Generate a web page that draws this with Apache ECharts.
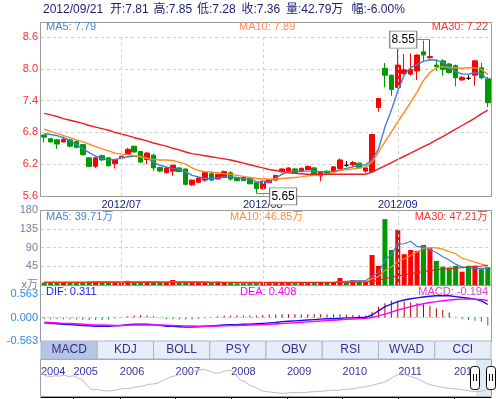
<!DOCTYPE html>
<html><head><meta charset="utf-8">
<script src="https://cdn.jsdelivr.net/npm/echarts@6/dist/echarts.min.js"></script>
<style>html,body{margin:0;padding:0;background:#fff}#c{width:496px;height:399px}</style>
</head><body><div id="c"></div>
<script>
const dates = ['2012/06/13','2012/06/14','2012/06/15','2012/06/18','2012/06/19','2012/06/20','2012/06/21','2012/06/25','2012/06/26','2012/06/27','2012/06/28','2012/06/29',
'2012/07/02','2012/07/03','2012/07/04','2012/07/05','2012/07/06','2012/07/09','2012/07/10','2012/07/11','2012/07/12','2012/07/13','2012/07/16','2012/07/17','2012/07/18','2012/07/19','2012/07/20','2012/07/23','2012/07/24','2012/07/25','2012/07/26','2012/07/27','2012/07/30','2012/07/31',
'2012/08/01','2012/08/02','2012/08/03','2012/08/06','2012/08/07','2012/08/08','2012/08/09','2012/08/10','2012/08/13','2012/08/14','2012/08/15','2012/08/16','2012/08/17','2012/08/20','2012/08/21','2012/08/24','2012/08/27','2012/08/28','2012/08/29','2012/08/30','2012/08/31',
'2012/09/03','2012/09/04','2012/09/05','2012/09/06','2012/09/07','2012/09/10','2012/09/11','2012/09/12','2012/09/13','2012/09/14','2012/09/17','2012/09/18','2012/09/19','2012/09/20','2012/09/21'];
const opens = [6.75,6.68,6.66,6.62,6.66,6.63,6.57,6.32,6.16,6.36, 6.32,6.21,6.32,6.39,6.54,6.44,6.29,6.37,6.14,6.04, 6.07,6.13,6.11,5.81,5.86,5.90,6.02,5.92,5.95,6.04, 5.94,5.95,5.93,5.85,5.74,5.85,5.90,6.06,6.07,6.11, 6.06,6.10,6.13,5.98,6.07,6.06,6.12,6.18,6.19,6.22, 6.07,6.06,7.27,8.01,7.88,7.65,7.91,7.90,7.96,8.32, 8.21,8.07,8.15,8.09,8.06,7.79,7.82,7.88,8.02,7.81];
const closes = [6.71,6.62,6.58,6.67,6.54,6.52,6.38,6.16,6.32,6.28, 6.17,6.29,6.35,6.48,6.43,6.24,6.41,6.13,6.07,6.13, 6.18,6.06,5.82,5.90,5.94,6.04,5.90,6.01,6.06,5.92, 5.89,5.89,5.83,5.74,5.88,5.90,5.99,6.11,6.13,6.03, 6.12,6.16,6.01,6.06,6.03,6.15,6.28,6.18,6.23,6.13, 6.13,6.76,7.44,7.88,7.61,8.07,7.98,7.99,8.26,8.26, 8.23,8.04,7.99,7.93,7.83,7.84,7.82,8.15,7.83,7.36];
const lows = [6.61,6.61,6.49,6.61,6.52,6.50,6.36,6.15,6.13,6.26, 6.16,6.12,6.31,6.38,6.42,6.22,6.20,6.07,6.05,6.03, 5.98,6.05,5.81,5.79,5.84,5.87,5.89,5.91,5.94,5.89, 5.88,5.88,5.82,5.65,5.72,5.84,5.89,6.04,6.06,6.02, 6.05,6.09,6.00,5.88,6.02,6.04,6.11,6.15,6.15,6.12, 6.04,6.05,7.19,7.65,7.49,7.63,7.89,7.87,7.79,8.13, 8.19,7.96,7.87,7.91,7.67,7.77,7.79,7.68,7.80,7.28];
const highs = [6.76,6.70,6.67,6.72,6.68,6.65,6.58,6.33,6.34,6.38, 6.33,6.30,6.36,6.51,6.55,6.45,6.43,6.40,6.15,6.14, 6.19,6.14,6.12,5.91,5.95,6.07,6.07,6.02,6.08,6.07, 5.95,5.96,5.94,5.86,5.89,5.91,6.00,6.12,6.14,6.13, 6.14,6.17,6.15,6.07,6.08,6.16,6.31,6.26,6.26,6.23, 6.14,6.76,7.44,8.11,7.89,8.37,8.28,8.29,8.27,8.53, 8.55,8.18,8.18,8.11,8.08,7.86,7.88,8.16,8.11,7.85];
const ma5 = [6.78,6.76,6.74,6.70,6.65,6.57,6.49,6.42,6.35,6.31, 6.28,6.29,6.31,6.34,6.35,6.35,6.32,6.24,6.18,6.15, 6.12,6.10,6.06,5.99,5.96,5.93,5.93,5.94,5.96,5.96, 5.95,5.93,5.92,5.87,5.85,5.87,5.94,6.01,6.06,6.07, 6.07,6.07,6.07,6.06,6.06,6.06,6.09,6.12,6.15,6.18, 6.19,6.28,6.49,6.90,7.22,7.58,7.88,8.02,8.08,8.14, 8.17,8.16,8.12,8.04,7.95,7.90,7.90,7.93,7.91,7.79];
const ma10 = [6.86,6.82,6.78,6.74,6.70,6.66,6.62,6.58,6.53,6.49, 6.45,6.41,6.39,6.38,6.36,6.34,6.31,6.29,6.28,6.28, 6.27,6.24,6.20,6.13,6.08,6.06,6.05,6.04,6.02,6.01, 5.99,5.97,5.95,5.93,5.92,5.92,5.92,5.93,5.94,5.95, 5.96,5.98,5.99,6.00,6.02,6.04,6.08,6.10,6.11,6.13, 6.15,6.24,6.43,6.62,6.81,7.00,7.18,7.37,7.56,7.78, 7.93,8.02,8.04,8.02,8.02,8.01,8.02,8.02,7.99,7.89];
const ma30 = [7.16,7.13,7.10,7.06,7.03,7.00,6.97,6.93,6.90,6.87, 6.84,6.80,6.77,6.74,6.70,6.67,6.64,6.60,6.57,6.54, 6.50,6.47,6.43,6.40,6.38,6.36,6.34,6.32,6.30,6.28, 6.25,6.22,6.19,6.16,6.13,6.10,6.08,6.06,6.04,6.03, 6.02,6.01,6.01,6.01,6.01,6.01,6.01,6.01,6.01,6.01, 6.01,6.05,6.11,6.17,6.23,6.29,6.35,6.41,6.47,6.53, 6.59,6.66,6.72,6.79,6.86,6.93,7.00,7.07,7.15,7.22];
const volumes = [6,5,6,5,6,5,7,8,9,5, 6,6,5,10,7,6,6,7,5,6, 12,5,8,6,5,6,5,8,6,5, 4,4,5,6,7,5,6,6,6,5, 6,6,5,7,5,7,17,8,12,8, 7,72,46,158,84,132,74,84,82,96, 88,58,44,42,46,32,46,46,38,42.79];
const volMa5 = [6,6,6,6,6,5.5,6,6,7,7, 7,7,6.5,7,7,7,7,7,6.5,6.5, 7.5,7,7,7,7,7,6,6.5,6,6, 5.5,5.5,5,5,5.5,5.5,6,6,6,5.5, 6,6,6,6,6,6,8,9,10,10.5, 10.5,21,29,60,73,98,99,105,92,92, 84,78,68,60,50,43,41,40,40,39.71];
const volMa10 = [6,6,6,6,6,6,6,6,6.5,6.5, 6.5,6.5,6.5,7,7,7,7,7,7,6.5, 7,7,7,7,7,7,6.5,6.5,6.5,6.5, 6,6,5.5,5.5,5.5,5.5,5.5,5.5,5.5,5.5, 5.5,5.5,5.5,6,6,6,7,7.5,8,8.5, 8.5,15,20,35,43,56,63,71,79,88, 90,89,86,80,75,64,60,55,50,46.85];
const volMa30 = [7,7,7,7,7,7,7,7,7,7, 7,7,7,7,7,7,7,7,7,7, 6.8,6.8,6.8,6.8,6.8,6.8,6.6,6.6,6.6,6.6, 6.4,6.4,6.4,6.4,6.4,6.4,6.4,6.4,6.4,6.4, 6.4,6.4,6.4,6.4,6.4,6.4,6.8,6.8,7,7.2, 7.2,9,10.5,15.6,18.2,22.2,24.5,27,29.5,32.5, 35,36.5,38,39.3,40.8,41.8,43.2,44.5,45.6,47.21];
const dif = [-0.13,-0.14,-0.15,-0.16,-0.17,-0.18,-0.19,-0.20,-0.21,-0.21, -0.21,-0.20,-0.19,-0.17,-0.16,-0.16,-0.16,-0.17,-0.19,-0.21, -0.21,-0.22,-0.23,-0.23,-0.22,-0.21,-0.20,-0.19,-0.18,-0.17, -0.17,-0.16,-0.16,-0.15,-0.14,-0.13,-0.12,-0.10,-0.09,-0.08, -0.07,-0.06,-0.05,-0.04,-0.03,-0.03,-0.02,-0.01,-0.01,0.00, 0.00,0.06,0.16,0.26,0.32,0.38,0.42,0.45,0.47,0.49, 0.51,0.52,0.52,0.52,0.50,0.48,0.46,0.44,0.40,0.311];
const dea = [-0.11,-0.12,-0.13,-0.14,-0.145,-0.15,-0.16,-0.17,-0.18,-0.18, -0.185,-0.19,-0.19,-0.185,-0.18,-0.18,-0.18,-0.18,-0.18,-0.185, -0.19,-0.195,-0.20,-0.205,-0.21,-0.21,-0.21,-0.205,-0.20,-0.195, -0.19,-0.185,-0.18,-0.175,-0.17,-0.16,-0.155,-0.145,-0.135,-0.125, -0.115,-0.105,-0.095,-0.085,-0.075,-0.065,-0.055,-0.045,-0.035,-0.03, -0.02,0.00,0.04,0.08,0.13,0.18,0.22,0.26,0.30,0.33, 0.36,0.38,0.40,0.42,0.43,0.44,0.44,0.44,0.43,0.408];
const macdHist = [-0.04,-0.04,-0.04,-0.04,-0.05,-0.05,-0.06,-0.06,-0.06,-0.06, -0.05,-0.03,-0.01,0.03,0.05,0.06,0.05,0.03,-0.02,-0.04, -0.04,-0.05,-0.05,-0.05,-0.03,-0.02,-0.01,0.03,0.04,0.05, 0.05,0.05,0.05,0.05,0.06,0.07,0.07,0.08,0.08,0.08, 0.07,0.08,0.08,0.08,0.07,0.07,0.08,0.07,0.06,0.06, 0.05,0.14,0.26,0.34,0.40,0.40,0.38,0.36,0.34,0.32, 0.28,0.22,0.18,0.12,-0.02,-0.04,-0.06,-0.08,-0.10,-0.194];
const priceTicks = {min: 5.6, max: 8.6, step: 0.6};
const volTicks = {min: 0, max: 180, step: 45};
const macdTicks = {min: -0.563, max: 0.563, step: 0.563};
const prevClose = 7.83;
const tabNames = ['MACD','KDJ','BOLL','PSY','OBV','RSI','WVAD','CCI'];
const navValues = [25.6,23,21.9,23,22.5,23.8,22,23,20.5,18.4, 12,7.6,8.2,7,6.8,6.5,7.5,8.5,9.4,9, 10.5,11.1,12,13.5,14,14.8,17,19.5,21.9,23, 25,27.4,26,28,29,30,28.5,26.5,25.6,27, 28.5,29.2,24,18,16.5,12.5,11.1,8,6,5.7, 5,4.5,4,4.2,4.8,4.6,5,4.8,5.5,5.7, 6,6.5,7,7.6,7.2,8,8.3,8.8,9.5,10.5, 11.1,12,13.5,14.8,16,18.5,21.9,24,25.6,23.5, 21.5,20.2,17.5,15,13,12,11,10,9.4,9, 8.5,7.6,7,6.2,5.7,6.5,7.8,7.4];
const navSkipMonths = ['2005/08','2005/09'];

const navMonths = [];
for (let y = 2004; y <= 2012; y++) {
  for (let m = 1; m <= 12; m++) {
    if (y === 2004 && m < 6) continue;
    if (y === 2012 && m > 9) continue;
    const s = y + '/' + (m < 10 ? '0' + m : m);
    if (navSkipMonths.indexOf(s) >= 0) continue;
    navMonths.push(s);
  }
}
const navYearIdx = new Set();
navMonths.forEach((s, i) => { if (i === 0 || s.slice(5) === '01') navYearIdx.add(i); });
const monthStarts = [];
dates.forEach((d, i) => { if (i > 0 && d.slice(5, 7) !== dates[i - 1].slice(5, 7)) monthStarts.push(i); });
const monthSet = new Set(monthStarts);
const last = dates.length - 1;
let hiIdx = 0, loIdx = 0;
highs.forEach((v, i) => { if (v > highs[hiIdx]) hiIdx = i; });
lows.forEach((v, i) => { if (v < lows[loIdx]) loIdx = i; });
const RED = '#ff0000', GREEN = '#009a00';
const C5 = '#3d7fd6', C10 = '#ff8a1c', C30 = '#ee1c25';
const FONT = '"Liberation Sans", Arial, "Noto Sans CJK SC", sans-serif';
const L = 41, W = 450;
const candleData = opens.map((o, i) => [o, closes[i], lows[i], highs[i]]);
const volData = volumes.map((v, i) => {
  const up = closes[i] > opens[i] || (closes[i] === opens[i] && i > 0 && closes[i] >= closes[i - 1]);
  return { value: v, itemStyle: { color: up ? RED : GREEN } };
});
const histData = macdHist.map(v => ({ value: v, itemStyle: { color: v >= 0 ? '#b80000' : '#00a000' } }));
const vLinesA = monthStarts.map(i => ({ xAxis: dates[i] }));
const vLinesB = monthStarts.map(i => ({ xAxis: dates[i] }));
const dashStyle = { color: '#cfcfcf', type: [3, 3], width: 1 };
const pct = ((closes[last] / prevClose - 1) * 100).toFixed(2);
const titleParts = [dates[last], '开:' + opens[last].toFixed(2), '高:' + highs[last].toFixed(2), '低:' + lows[last].toFixed(2),
  '收:' + closes[last].toFixed(2), '量:' + volumes[last].toFixed(2) + '万', '幅:' + pct + '%'];
const titleX = [43, 110, 153.5, 197, 241.5, 286, 351.5];
function txt(x, y, s, color, align) {
  return { type: 'text', x: x, y: y, z: 30, style: { text: s, fill: color, font: '11px ' + FONT, textAlign: align || 'left', textVerticalAlign: 'middle' } };
}
function frame(x, y, w, h, stroke) {
  return { type: 'rect', z: 1, shape: { x: x + 0.5, y: y + 0.5, width: w, height: h }, style: { fill: 'none', stroke: stroke || '#9a9a9a', lineWidth: 1 } };
}
const graphics = [
  frame(40, 22, 451, 174), frame(40, 210, 451, 75), frame(40, 285, 451, 56),
  txt(46, 27, 'MA5: ' + ma5[last].toFixed(2), '#4a86d8'),
  txt(239, 27, 'MA10: ' + ma10[last].toFixed(2), '#ff8a5a'),
  txt(488, 27, 'MA30: ' + ma30[last].toFixed(2), '#ff3030', 'right'),
  txt(46, 217, 'MA5: ' + volMa5[last].toFixed(2) + '万', '#4a86d8'),
  txt(230, 217, 'MA10: ' + volMa10[last].toFixed(2) + '万', '#ff8a3a'),
  txt(488, 217, 'MA30: ' + volMa30[last].toFixed(2) + '万', '#ff3030', 'right'),
  txt(46, 292, 'DIF: ' + dif[last].toFixed(3), '#1a1aff'),
  txt(240, 292, 'DEA: ' + dea[last].toFixed(3), '#ff00ff'),
  txt(488, 292, 'MACD: ' + macdHist[last].toFixed(3), '#e040c8', 'right')
];
titleParts.forEach((s, k) => {
  graphics.push({ type: 'text', x: titleX[k], y: 10, z: 30, style: { text: s, fill: '#1c1c70', font: '12px ' + FONT, textVerticalAlign: 'middle' } });
});
const tabW = W / tabNames.length;
tabNames.forEach((n, k) => {
  graphics.push({ type: 'rect', z: 1, shape: { x: L + k * tabW, y: 341, width: tabW, height: 18 }, style: { fill: k === 0 ? '#b4c6e2' : '#e8eef9', stroke: '#a6b6d4', lineWidth: 1 } });
  graphics.push({ type: 'text', z: 2, x: L + k * tabW + tabW / 2, y: 350, style: { text: n, fill: '#3a2a90', font: '12px ' + FONT, textAlign: 'center', textVerticalAlign: 'middle' } });
});
graphics.push({ type: 'rect', z: 0, shape: { x: 40.5, y: 359.5, width: 451, height: 37 }, style: { fill: 'none', stroke: '#a0a0a0' } });
graphics.push({ type: 'rect', z: 3, shape: { x: 476, y: 360, width: 15, height: 37 }, style: { fill: 'rgba(160,200,215,0.35)' } });
graphics.push({ type: 'text', z: 3, x: 188, y: 385, style: { text: 'laser fan', fill: 'rgba(255,255,255,0.9)', font: '16px ' + FONT, textVerticalAlign: 'middle' } });
[470.5, 486.5].forEach(hx => {
  graphics.push({ type: 'rect', z: 40, shape: { x: hx, y: 366.5, width: 9, height: 23, r: 3 }, style: { fill: '#fff', stroke: '#000', lineWidth: 1 } });
  graphics.push({ type: 'line', z: 41, shape: { x1: hx + 3, y1: 374, x2: hx + 3, y2: 381 }, style: { stroke: '#000', lineWidth: 1 } });
  graphics.push({ type: 'line', z: 41, shape: { x1: hx + 6, y1: 374, x2: hx + 6, y2: 381 }, style: { stroke: '#000', lineWidth: 1 } });
});
const hiddenX = (gi) => ({ type: 'category', gridIndex: gi, data: dates, boundaryGap: true, axisLine: { show: false }, axisTick: { show: false }, axisLabel: { show: false }, splitLine: { show: false } });
const option = {
  animation: false, backgroundColor: '#fff', textStyle: { fontFamily: FONT }, graphic: graphics,
  grid: [ { left: L, width: W, top: 37, height: 159 }, { left: L, width: W, top: 210, height: 75 }, { left: L, width: W, top: 294, height: 47 }, { left: L, width: W, top: 360, height: 37 } ],
  xAxis: [
    { type: 'category', gridIndex: 0, data: dates, boundaryGap: true, axisLine: { show: false }, axisTick: { show: false }, splitLine: { show: false },
      axisLabel: { show: true, interval: (i) => monthSet.has(i), formatter: v => v.slice(0, 7), color: '#1a2480', fontSize: 11, margin: 3 } },
    hiddenX(1), hiddenX(2),
    { type: 'category', gridIndex: 3, data: navMonths, boundaryGap: false, position: 'top', axisLine: { show: true, lineStyle: { color: '#000', width: 1 } },
      axisTick: { show: true, inside: true, length: 4, interval: (i) => navYearIdx.has(i) && i > 0, lineStyle: { color: '#000' } },
      axisLabel: { show: true, inside: true, interval: (i) => navYearIdx.has(i), formatter: v => v.slice(0, 4), align: 'left', color: '#3434a8', fontSize: 11, margin: 6 }, splitLine: { show: false } }
  ],
  yAxis: [
    { type: 'value', gridIndex: 0, min: priceTicks.min, max: priceTicks.max, interval: priceTicks.step, axisLine: { show: false }, axisTick: { show: false },
      axisLabel: { color: '#ff2a2a', fontSize: 11, margin: 3, formatter: v => v.toFixed(1) }, splitLine: { show: true, lineStyle: dashStyle } },
    { type: 'value', gridIndex: 1, min: volTicks.min, max: volTicks.max, interval: volTicks.step, axisLine: { show: false }, axisTick: { show: false },
      axisLabel: { color: '#7282a2', fontSize: 11, margin: 3, showMaxLabel: true, formatter: v => v === 0 ? 'x万' : String(v) }, splitLine: { show: true, lineStyle: dashStyle } },
    { type: 'value', gridIndex: 2, min: macdTicks.min, max: macdTicks.max, interval: macdTicks.step, axisLine: { show: false }, axisTick: { show: false },
      axisLabel: { color: '#2a8ae8', fontSize: 11, margin: 3, formatter: v => v.toFixed(3) }, splitLine: { show: true, lineStyle: dashStyle } },
    { type: 'value', gridIndex: 3, min: 0, max: 40, show: false }
  ],
  series: [
    { type: 'candlestick', xAxisIndex: 0, yAxisIndex: 0, data: candleData, barWidth: 5,
      itemStyle: { color: RED, color0: GREEN, borderColor: RED, borderColor0: GREEN, borderColorDoji: '#000', borderWidth: 1 },
      markLine: { silent: true, symbol: ['none', 'none'], label: { show: false }, lineStyle: dashStyle, animation: false,
        data: vLinesA.concat([
          [{ coord: [dates[hiIdx], highs[hiIdx]], lineStyle: { color: '#808080', type: 'solid', width: 1 } }, { coord: [dates[hiIdx - 3], highs[hiIdx]] }],
          [{ coord: [dates[loIdx], lows[loIdx]], lineStyle: { color: '#808080', type: 'solid', width: 1 } }, { coord: [dates[loIdx + 3], lows[loIdx]] }]
        ]) },
      markPoint: { silent: true, animation: false, symbol: 'rect', symbolSize: [27, 17], itemStyle: { color: '#fff', borderColor: '#808080', borderWidth: 1 },
        label: { show: true, position: 'inside', color: '#000', fontSize: 12, fontFamily: FONT, formatter: p => p.value.toFixed(2) },
        data: [ { coord: [dates[hiIdx - 4], highs[hiIdx]], value: highs[hiIdx], symbolOffset: [-1, 0] },
                { coord: [dates[loIdx + 4], lows[loIdx]], value: lows[loIdx], symbolOffset: [1, 3] } ] } },
    { type: 'line', xAxisIndex: 0, yAxisIndex: 0, data: ma5, symbol: 'none', lineStyle: { color: C5, width: 1.4 } },
    { type: 'line', xAxisIndex: 0, yAxisIndex: 0, data: ma10, symbol: 'none', lineStyle: { color: C10, width: 1.4 } },
    { type: 'line', xAxisIndex: 0, yAxisIndex: 0, data: ma30, symbol: 'none', lineStyle: { color: C30, width: 1.4 } },
    { type: 'bar', xAxisIndex: 1, yAxisIndex: 1, data: volData, barWidth: 5,
      markLine: { silent: true, symbol: ['none', 'none'], label: { show: false }, lineStyle: dashStyle, data: vLinesB, animation: false } },
    { type: 'line', xAxisIndex: 1, yAxisIndex: 1, data: volMa5, symbol: 'none', lineStyle: { color: C5, width: 1.2 } },
    { type: 'line', xAxisIndex: 1, yAxisIndex: 1, data: volMa10, symbol: 'none', lineStyle: { color: C10, width: 1.2 } },
    { type: 'line', xAxisIndex: 1, yAxisIndex: 1, data: volMa30, symbol: 'none', lineStyle: { color: C30, width: 1.2 } },
    { type: 'bar', xAxisIndex: 2, yAxisIndex: 2, data: histData, barWidth: 1 },
    { type: 'line', xAxisIndex: 2, yAxisIndex: 2, data: dif, symbol: 'none', lineStyle: { color: '#1010ee', width: 1.4 } },
    { type: 'line', xAxisIndex: 2, yAxisIndex: 2, data: dea, symbol: 'none', lineStyle: { color: '#ff00ff', width: 1.4 } },
    { type: 'line', xAxisIndex: 3, yAxisIndex: 3, data: navValues, symbol: 'none', lineStyle: { color: '#bdbdbd', width: 1 } }
  ]
};
const chart = echarts.init(document.getElementById('c'), null, { renderer: 'canvas' });
chart.setOption(option);
// force a full display-list rebuild and an immediate repaint so every axis label is drawn
const zr = chart.getZr();
zr.storage.getDisplayList(true);
zr.refreshImmediately();
</script>
</body></html>
